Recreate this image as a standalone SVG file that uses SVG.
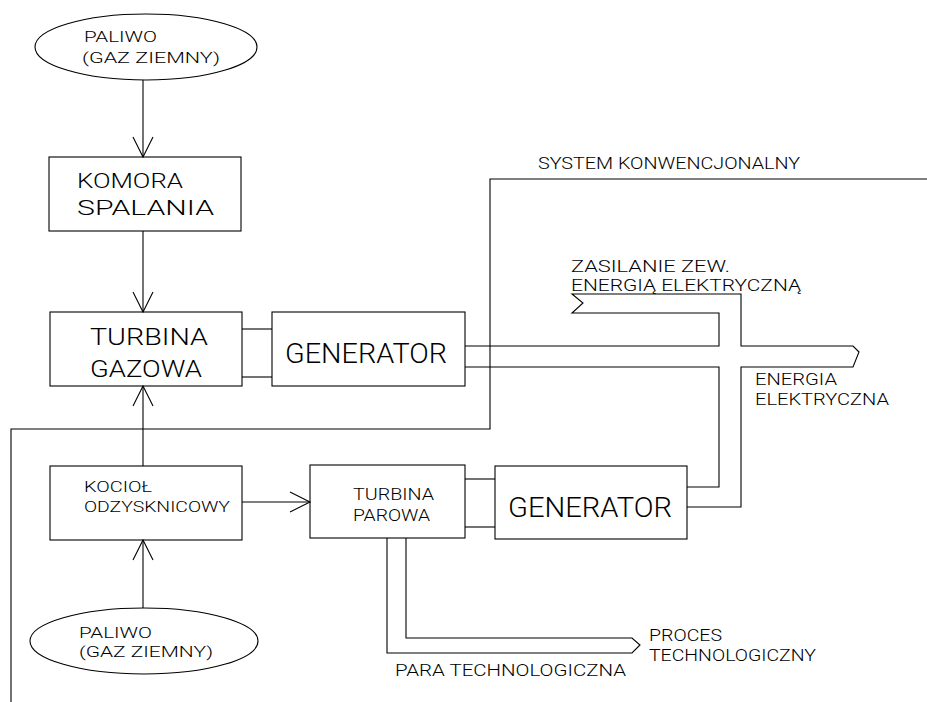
<svg xmlns="http://www.w3.org/2000/svg" width="927" height="702" viewBox="0 0 927 702">
<style>
.n{fill:none;stroke:#000;stroke-width:1.1}
.c{fill:none;stroke:#000;stroke-width:1.1}
text{font-family:Roboto,"Liberation Sans",Arial,sans-serif;fill:#000;font-weight:300}
</style>
<defs>
<marker id="arr" markerUnits="userSpaceOnUse" markerWidth="24" markerHeight="24" refX="20" refY="10" orient="auto" overflow="visible">
<path d="M0,0 L20,10 L0,20" fill="none" stroke="#000" stroke-width="1.1"/>
</marker>
</defs>
<rect width="927" height="702" fill="#fff"/>
<g id="connectors">
<line class="c" x1="143" y1="80" x2="143" y2="157" marker-end="url(#arr)"/>
<line class="c" x1="143" y1="231" x2="143" y2="312" marker-end="url(#arr)"/>
<line class="c" x1="143" y1="466" x2="143" y2="386" marker-end="url(#arr)"/>
<line class="c" x1="143" y1="608" x2="143" y2="540" marker-end="url(#arr)"/>
<line class="c" x1="242" y1="502" x2="310" y2="502" marker-end="url(#arr)"/>
<polyline class="c" points="242,329 272,329"/>
<polyline class="c" points="242,377 272,377"/>
<polyline class="c" points="465,479 495,479"/>
<polyline class="c" points="465,527 495,527"/>
<polyline class="c" points="927,179 490,179 490,429 11,429 11,702"/>
<polyline class="c" points="465,346 719,346 719,313 572,313 583,303 572,294 741,294 741,346 853,346 859,352 853,367 741,367 741,507 687,507"/>
<polyline class="c" points="465,367 719,367 719,487 687,487"/>
<polyline class="c" points="406,538 406,638 632,638 640,645 632,653 387,653 387,538"/>
</g>
<g id="paliwo1">
<ellipse class="n" cx="146" cy="47" rx="111" ry="33"/>
<text x="84" y="42" font-size="14" textLength="73" lengthAdjust="spacingAndGlyphs">PALIWO</text>
<text x="82" y="63" font-size="14" textLength="138" lengthAdjust="spacingAndGlyphs">(GAZ ZIEMNY)</text>
</g>
<g id="komora">
<rect class="n" x="49" y="157" width="192" height="74"/>
<text x="77" y="188" font-size="21" textLength="106" lengthAdjust="spacingAndGlyphs">KOMORA</text>
<text x="77" y="215" font-size="21" textLength="137" lengthAdjust="spacingAndGlyphs">SPALANIA</text>
</g>
<g id="turbina_gazowa">
<rect class="n" x="50" y="312" width="192" height="74"/>
<text x="90" y="345" font-size="23" textLength="118" lengthAdjust="spacingAndGlyphs">TURBINA</text>
<text x="90" y="377" font-size="23" textLength="112" lengthAdjust="spacingAndGlyphs">GAZOWA</text>
</g>
<g id="generator1">
<rect class="n" x="272" y="312" width="193" height="74"/>
<text x="285" y="363" font-size="27" textLength="162" lengthAdjust="spacingAndGlyphs">GENERATOR</text>
</g>
<g id="kociol">
<rect class="n" x="50" y="466" width="192" height="74"/>
<text x="84" y="492" font-size="14" textLength="68" lengthAdjust="spacingAndGlyphs">KOCIOŁ</text>
<text x="84" y="512" font-size="14" textLength="146" lengthAdjust="spacingAndGlyphs">ODZYSKNICOWY</text>
</g>
<g id="turbina_parowa">
<rect class="n" x="310" y="465" width="155" height="73"/>
<text x="353" y="500" font-size="16" textLength="81" lengthAdjust="spacingAndGlyphs">TURBINA</text>
<text x="353" y="521" font-size="16" textLength="77" lengthAdjust="spacingAndGlyphs">PAROWA</text>
</g>
<g id="generator2">
<rect class="n" x="495" y="466" width="192" height="73"/>
<text x="508" y="517" font-size="27" textLength="164" lengthAdjust="spacingAndGlyphs">GENERATOR</text>
</g>
<g id="paliwo2">
<ellipse class="n" cx="144" cy="641" rx="114" ry="33"/>
<text x="79" y="638" font-size="15" textLength="73" lengthAdjust="spacingAndGlyphs">PALIWO</text>
<text x="79" y="657" font-size="15" textLength="134" lengthAdjust="spacingAndGlyphs">(GAZ ZIEMNY)</text>
</g>
<g id="labels">
<text x="538" y="169" font-size="16" textLength="262" lengthAdjust="spacingAndGlyphs">SYSTEM KONWENCJONALNY</text>
<text x="571" y="272" font-size="16" textLength="159" lengthAdjust="spacingAndGlyphs">ZASILANIE ZEW.</text>
<text x="571" y="291" font-size="16" textLength="230" lengthAdjust="spacingAndGlyphs">ENERGIĄ ELEKTRYCZNĄ</text>
<text x="755" y="385" font-size="16" textLength="82" lengthAdjust="spacingAndGlyphs">ENERGIA</text>
<text x="755" y="405" font-size="16" textLength="134" lengthAdjust="spacingAndGlyphs">ELEKTRYCZNA</text>
<text x="649" y="641" font-size="17" textLength="73" lengthAdjust="spacingAndGlyphs">PROCES</text>
<text x="649" y="661" font-size="17" textLength="167" lengthAdjust="spacingAndGlyphs">TECHNOLOGICZNY</text>
<text x="395" y="676" font-size="16" textLength="231" lengthAdjust="spacingAndGlyphs">PARA TECHNOLOGICZNA</text>
</g>
</svg>
